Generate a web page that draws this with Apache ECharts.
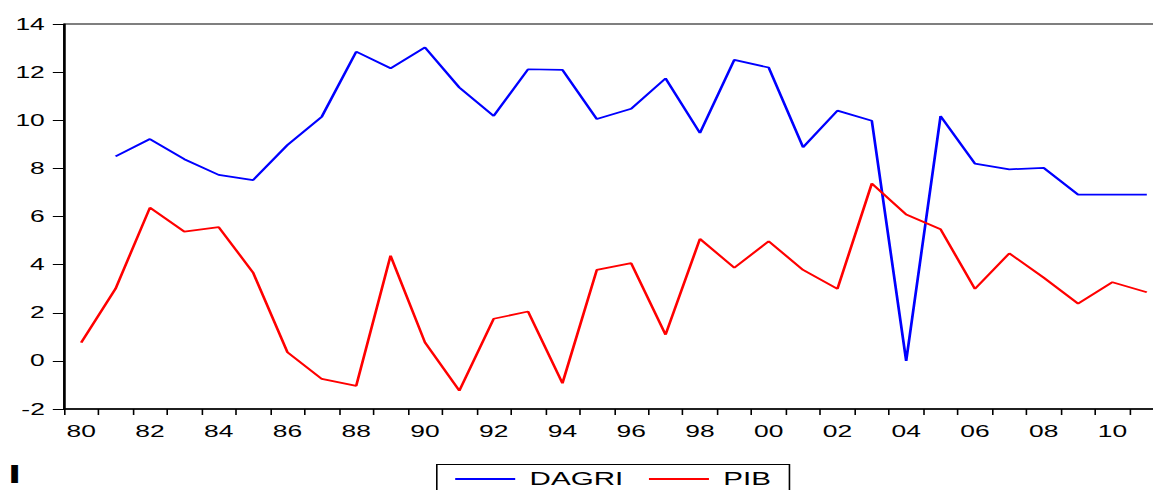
<!DOCTYPE html>
<html>
<head>
<meta charset="utf-8">
<script src="https://cdn.jsdelivr.net/npm/echarts@6/dist/echarts.min.js"></script>
<style>
  html, body { margin: 0; padding: 0; background: #fff; overflow: hidden; }
  #wrap { width: 1153px; height: 490px; overflow: hidden; position: relative; }
  #c { width: 720.625px; height: 490px; transform: scaleX(1.6); transform-origin: 0 0; position: absolute; left: 0; top: 0; }
</style>
</head>
<body>
<div id="wrap"><div id="c"></div></div>
<script>
// Years 1980-2011 (two-digit labels)
const years = ['80','81','82','83','84','85','86','87','88','89',
               '90','91','92','93','94','95','96','97','98','99',
               '00','01','02','03','04','05','06','07','08','09',
               '10','11'];
const dagri = [null, 8.5, 9.22, 8.38, 7.73, 7.51, 8.97, 10.15, 12.85, 12.16,
               13.03, 11.36, 10.18, 12.12, 12.09, 10.05, 10.48, 11.74, 9.47, 12.51,
               12.19, 8.88, 10.40, 9.98, 0.0, 10.17, 8.2, 7.96, 8.02, 6.91,
               6.91, 6.91];
const pib = [0.76, 3.0, 6.37, 5.37, 5.56, 3.67, 0.36, -0.75, -1.04, 4.37,
             0.77, -1.24, 1.75, 2.05, -0.93, 3.78, 4.06, 1.09, 5.07, 3.87,
             4.97, 3.78, 2.99, 7.37, 6.08, 5.47, 2.99, 4.47, 3.46, 2.38,
             3.27, 2.85];
const seriesNames = ['DAGRI', 'PIB'];

const FONT = '"Liberation Sans", Arial, sans-serif';
const chart = echarts.init(document.getElementById('c'), null, { renderer: 'svg' });
chart.setOption({
  animation: false,
  backgroundColor: '#fff',
  title: {
    text: 'ا', left: 0, top: 458,
    textStyle: { fontSize: 24, fontWeight: 'bold', fontFamily: '"DejaVu Sans", sans-serif', color: '#000' }
  },
  grid: {
    left: 40, top: 24, width: 687.5, height: 385,
    show: true, borderColor: '#000', borderWidth: 1.2,
    containLabel: false, outerBoundsMode: 'none'
  },
  legend: {
    data: seriesNames,
    left: 273, top: 464.5,
    orient: 'horizontal',
    icon: 'rect',
    itemWidth: 37.5, itemHeight: 2,
    itemGap: 16,
    padding: [5, 11.5, 24, 11.5],
    borderColor: '#000', borderWidth: 1,
    textStyle: { fontSize: 18.5, fontFamily: FONT, color: '#000', padding: [0, 0, 0, 4] }
  },
  xAxis: {
    type: 'category',
    data: years,
    boundaryGap: true,
    axisLine: { show: true, onZero: false, lineStyle: { color: '#000', width: 1.5 } },
    axisTick: { show: true, interval: 0, inside: false, length: 6, lineStyle: { color: '#000', width: 1 } },
    axisLabel: { interval: 1, margin: 14, fontSize: 16.5, fontFamily: FONT, color: '#000' },
    splitLine: { show: false }
  },
  yAxis: {
    type: 'value',
    min: -2, max: 14, interval: 2,
    axisLine: { show: true, lineStyle: { color: '#000', width: 1.2 } },
    axisTick: { show: true, inside: false, length: 7, lineStyle: { color: '#000', width: 1 } },
    axisLabel: { margin: 12, fontSize: 16.5, fontFamily: FONT, color: '#000' },
    splitLine: { show: false }
  },
  series: [
    {
      name: seriesNames[0], type: 'line', data: dagri,
      symbol: 'none', connectNulls: false,
      lineStyle: { color: '#0000ff', width: 1.7 }, itemStyle: { color: '#0000ff' }
    },
    {
      name: seriesNames[1], type: 'line', data: pib,
      symbol: 'none',
      lineStyle: { color: '#ff0000', width: 1.7 }, itemStyle: { color: '#ff0000' }
    }
  ]
});
</script>
</body>
</html>
